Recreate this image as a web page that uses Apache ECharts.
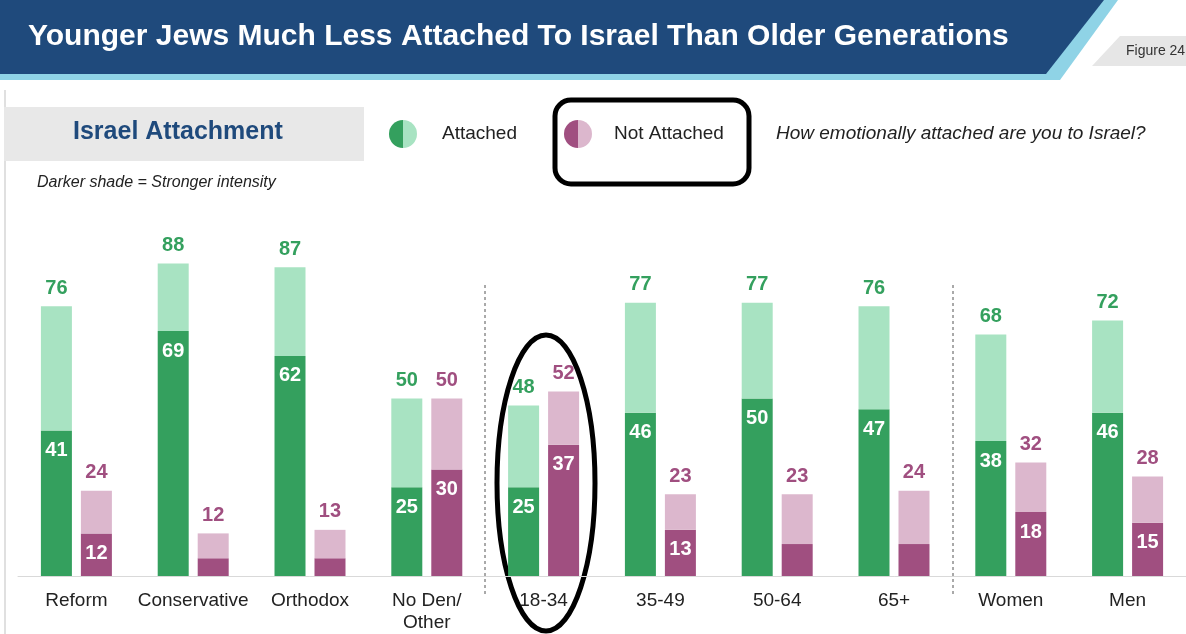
<!DOCTYPE html>
<html>
<head>
<meta charset="utf-8">
<script src="https://cdn.jsdelivr.net/npm/echarts@6/dist/echarts.min.js"></script>
<style>
html,body{margin:0;padding:0;background:#fff;}
#chart{width:1186px;height:634px;}
</style>
</head>
<body>
<div id="chart"></div>
<script>
// data
var categories = ['Reform', 'Conservative', 'Orthodox', 'No Den/\nOther', '18-34', '35-49', '50-64', '65+', 'Women', 'Men'];
var attachedTotal = [76, 88, 87, 50, 48, 77, 77, 76, 68, 72];
var attachedStrong = [41, 69, 62, 25, 25, 46, 50, 47, 38, 46];
var notTotal = [24, 12, 13, 50, 52, 23, 23, 24, 32, 28];
var notStrong = [12, 5, 5, 30, 37, 13, 9, 9, 18, 15];

var green = '#34a05e', lightGreen = '#a8e3c2', purple = '#a04f80', lightPurple = '#dcb7cd';

function rest(total, strong) {
    return total.map(function (t, i) { return t - strong[i]; });
}

var chart = echarts.init(document.getElementById('chart'));

var strongLabel = {
    show: true, position: 'insideTop', distance: 10, color: '#fff',
    fontSize: 20, fontWeight: 'bold', fontFamily: 'Arial, Liberation Sans',
    formatter: function (p) { return p.value >= 10 ? p.value : ''; }
};

var option = {
    animation: false,
    grid: { left: 18, width: 1175, top: 221, bottom: 48 },
    xAxis: {
        type: 'category', data: categories,
        axisLine: { lineStyle: { color: '#d9d9d9' } },
        axisTick: { show: false },
        axisLabel: { interval: 0, color: '#222', fontSize: 19, fontFamily: 'Arial, Liberation Sans', margin: 14, lineHeight: 22 }
    },
    yAxis: { type: 'value', min: 0, max: 100, show: false, splitLine: { show: false } },
    series: [
        { name: 'Attached strong', type: 'bar', stack: 'a', data: attachedStrong, barWidth: 31, barGap: '29%',
          itemStyle: { color: green }, label: strongLabel },
        { name: 'Attached', type: 'bar', stack: 'a', data: rest(attachedTotal, attachedStrong),
          itemStyle: { color: lightGreen },
          label: { show: true, position: 'top', distance: 8, color: green, fontSize: 20, fontWeight: 'bold',
                   fontFamily: 'Arial, Liberation Sans',
                   formatter: function (p) { return attachedTotal[p.dataIndex]; } } },
        { name: 'Not strong', type: 'bar', stack: 'b', data: notStrong, barWidth: 31,
          itemStyle: { color: purple }, label: strongLabel },
        { name: 'Not Attached', type: 'bar', stack: 'b', data: rest(notTotal, notStrong),
          itemStyle: { color: lightPurple },
          label: { show: true, position: 'top', distance: 8, color: purple, fontSize: 20, fontWeight: 'bold',
                   fontFamily: 'Arial, Liberation Sans',
                   formatter: function (p) { return notTotal[p.dataIndex]; } } }
    ],
    graphic: [
        // header banner
        { type: 'polygon', shape: { points: [[0, 0], [1118, 0], [1060, 80], [0, 80]] }, style: { fill: '#8fd3e6' } },
        { type: 'polygon', shape: { points: [[0, 0], [1104, 0], [1046, 74], [0, 74]] }, style: { fill: '#1f4a7c' } },
        { type: 'text', left: 28, top: 22, style: { text: 'Younger Jews Much Less Attached To Israel Than Older Generations',
          fill: '#fff', font: 'bold 30px Arial, Liberation Sans' } },
        { type: 'polygon', shape: { points: [[1120, 36], [1186, 36], [1186, 66], [1092, 66]] }, style: { fill: '#e6e6e6' } },
        { type: 'text', left: 1126, top: 44, style: { text: 'Figure 24', fill: '#333', font: '14px Arial, Liberation Sans' } },
        { type: 'line', shape: { x1: 5, y1: 90, x2: 5, y2: 634 }, style: { stroke: '#e0e0e0', lineWidth: 2 } },
        // subtitle box
        { type: 'rect', shape: { x: 4, y: 107, width: 360, height: 54 }, style: { fill: '#e8e8e8' } },
        { type: 'text', left: 73, top: 120, style: { text: 'Israel Attachment', fill: '#1f4a7c', font: 'bold 25px Arial, Liberation Sans' } },
        { type: 'text', left: 37, top: 175, style: { text: 'Darker shade = Stronger intensity', fill: '#222', font: 'italic 16px Arial, Liberation Sans' } },
        // legend
        { type: 'sector', shape: { cx: 403, cy: 134, r: 14, startAngle: Math.PI / 2, endAngle: Math.PI * 1.5 }, style: { fill: green } },
        { type: 'sector', shape: { cx: 403, cy: 134, r: 14, startAngle: -Math.PI / 2, endAngle: Math.PI / 2 }, style: { fill: lightGreen } },
        { type: 'text', left: 442, top: 124, style: { text: 'Attached', fill: '#222', font: '19px Arial, Liberation Sans' } },
        { type: 'sector', shape: { cx: 578, cy: 134, r: 14, startAngle: Math.PI / 2, endAngle: Math.PI * 1.5 }, style: { fill: purple } },
        { type: 'sector', shape: { cx: 578, cy: 134, r: 14, startAngle: -Math.PI / 2, endAngle: Math.PI / 2 }, style: { fill: lightPurple } },
        { type: 'text', left: 614, top: 124, style: { text: 'Not Attached', fill: '#222', font: '19px Arial, Liberation Sans' } },
        { type: 'rect', shape: { x: 555, y: 100, width: 194, height: 84, r: 16 }, style: { fill: 'none', stroke: '#000', lineWidth: 5 } },
        { type: 'text', left: 776, top: 124, style: { text: 'How emotionally attached are you to Israel?', fill: '#222', font: 'italic 19px Arial, Liberation Sans' } },
        // separators
        { type: 'line', shape: { x1: 485, y1: 285, x2: 485, y2: 595 }, style: { stroke: '#555', lineWidth: 1, lineDash: [3, 3] } },
        { type: 'line', shape: { x1: 953, y1: 285, x2: 953, y2: 595 }, style: { stroke: '#555', lineWidth: 1, lineDash: [3, 3] } },
        // highlight ellipse around 18-34
        { type: 'ellipse', shape: { cx: 546, cy: 483, rx: 49, ry: 148 }, style: { fill: 'none', stroke: '#000', lineWidth: 5 } }
    ]
};

chart.setOption(option);
</script>
</body>
</html>
